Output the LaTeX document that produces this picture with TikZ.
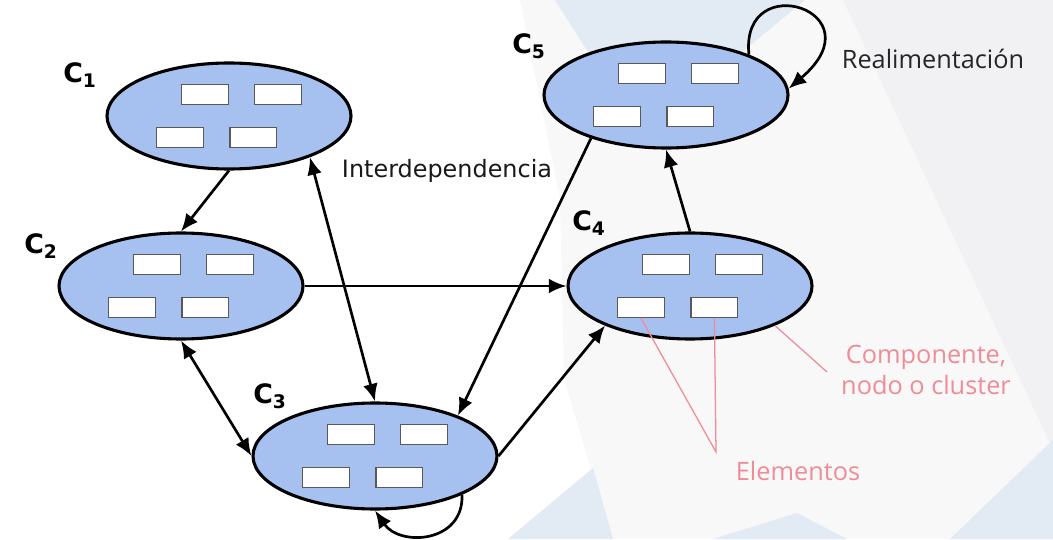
\documentclass[tikz,border=0pt]{standalone}
\usepackage{fontspec}
\setmainfont{DejaVu Sans}
\newfontfamily\notefont{Open Sans}
\usetikzlibrary{shapes.geometric,arrows.meta}

\definecolor{clusterblue}{RGB}{166,192,240}
\definecolor{notered}{RGB}{240,140,150}
\definecolor{panelgray}{RGB}{248,248,249}
\definecolor{paneldark}{RGB}{241,241,243}
\definecolor{panelblue}{RGB}{226,234,244}

\begin{document}
\begin{tikzpicture}
	[cluster/.style={ellipse,draw=black,fill=clusterblue,line width=2.2pt,
minimum width=6.1cm,minimum height=2.65cm,inner sep=0pt},
	elem/.style={rectangle,draw=black!65,fill=white,line width=0.8pt,
minimum width=1.17cm,minimum height=0.5cm,inner sep=0pt},
	clabel/.style={inner sep=0pt,font=\bfseries\fontsize{19}{20}\selectfont},
	link/.style={-{Latex[length=4.4mm,width=3.7mm]},line width=1.9pt},
	twoway/.style={{Latex[length=4.4mm,width=3.7mm]}-{Latex[length=4.4mm,width=3.7mm]},line width=1.9pt},
	note/.style={inner sep=0pt,font=\notefont\fontsize{18}{22.5}\selectfont},
	pointer/.style={notered,line width=0.9pt}]
	\useasboundingbox (0,0) rectangle (26.325,13.475);
	% slide backdrop
	\fill[panelgray] (13.0,13.475) -- (26.325,13.475) -- (26.325,0) -- (15.3,0) -- (14.1,4.0) -- (14.0,8.5) -- cycle;
	\fill[paneldark] (21.075,13.475) -- (26.325,13.475) -- (26.325,2.225) -- cycle;
	\fill[panelblue] (13.875,13.475) -- (20.125,13.475) -- (17.25,11.1) -- (14.75,12.1) -- cycle;
	\fill[panelblue] (14.825,1.775) -- (12.7,0) -- (15.325,0) -- cycle;
	\fill[panelblue] (19.925,0.65) -- (17.825,0) -- (21.175,0) -- cycle;
	\fill[panelblue] (26.325,2.475) -- (26.325,0) -- (23.75,0) -- cycle;
	% clusters and their elements
	\node at (5.725,10.575) (c1) [cluster] {};
	\node at (4.525,6.325) (c2) [cluster] {};
	\node at (9.375,2.075) (c3) [cluster] {};
	\node at (17.25,6.325) (c4) [cluster] {};
	\node at (16.65,11.1) (c5) [cluster] {};
	\foreach \c in {c1,c2,c3,c4,c5} {
		\node (\c-a) [elem,xshift=-0.6cm,yshift=0.53cm] at (\c) {};
		\node (\c-b) [elem,xshift=1.23cm,yshift=0.53cm] at (\c) {};
		\node (\c-c) [elem,xshift=-1.23cm,yshift=-0.53cm] at (\c) {};
		\node (\c-d) [elem,xshift=0.61cm,yshift=-0.53cm] at (\c) {};
	}
	\node at (2.0,11.6) (l1) [clabel] {C\textsubscript{1}};
	\node at (1.025,7.325) (l2) [clabel] {C\textsubscript{2}};
	\node at (6.75,3.575) (l3) [clabel] {C\textsubscript{3}};
	\node at (14.725,7.9) (l4) [clabel] {C\textsubscript{4}};
	\node at (13.225,12.325) (l5) [clabel] {C\textsubscript{5}};
	% links between clusters
	\draw[link] (c1.south) -- (c2.north);
	\draw[twoway] (c1.-27) -- (c3.north);
	\draw[link] (c2.east) -- (c4.west);
	\draw[twoway] (c2.south) -- (c3.west);
	\draw[link] (c3.east) -- (c4.205);
	\draw[link] (c5.210) -- (c3.26);
	\draw[link] (c4.north) -- (c5.south);
	\draw[link] (c5.26) .. controls (18.5,14.3) and (22.0,13.2) .. (c5.3);
	\draw[link] (c3.-24) .. controls (11.6,-0.1) and (10.0,-0.2) .. (c3.south);
	\node at (11.175,9.2) (inter) [inner sep=0pt,text=black!90,font=\fontsize{17}{20}\selectfont] {Interdependencia};
	\node at (23.325,12.0) (feedback) [note,text=black!85] {Realimentación};
	% callouts
	\coordinate (tipc) at (20.675,4.175);
	\coordinate (tipe) at (17.9,2.175);
	\draw[pointer] (c4.-25) -- (tipc);
	\draw[pointer] (c4-c.south) -- (tipe) -- (c4-d.south);
	\node at (23.15,4.225) (comp) [note,text=notered,align=center] {Componente,\\nodo o cluster};
	\node at (19.95,1.7) (elems) [note,text=notered] {Elementos};
\end{tikzpicture}
\end{document}
